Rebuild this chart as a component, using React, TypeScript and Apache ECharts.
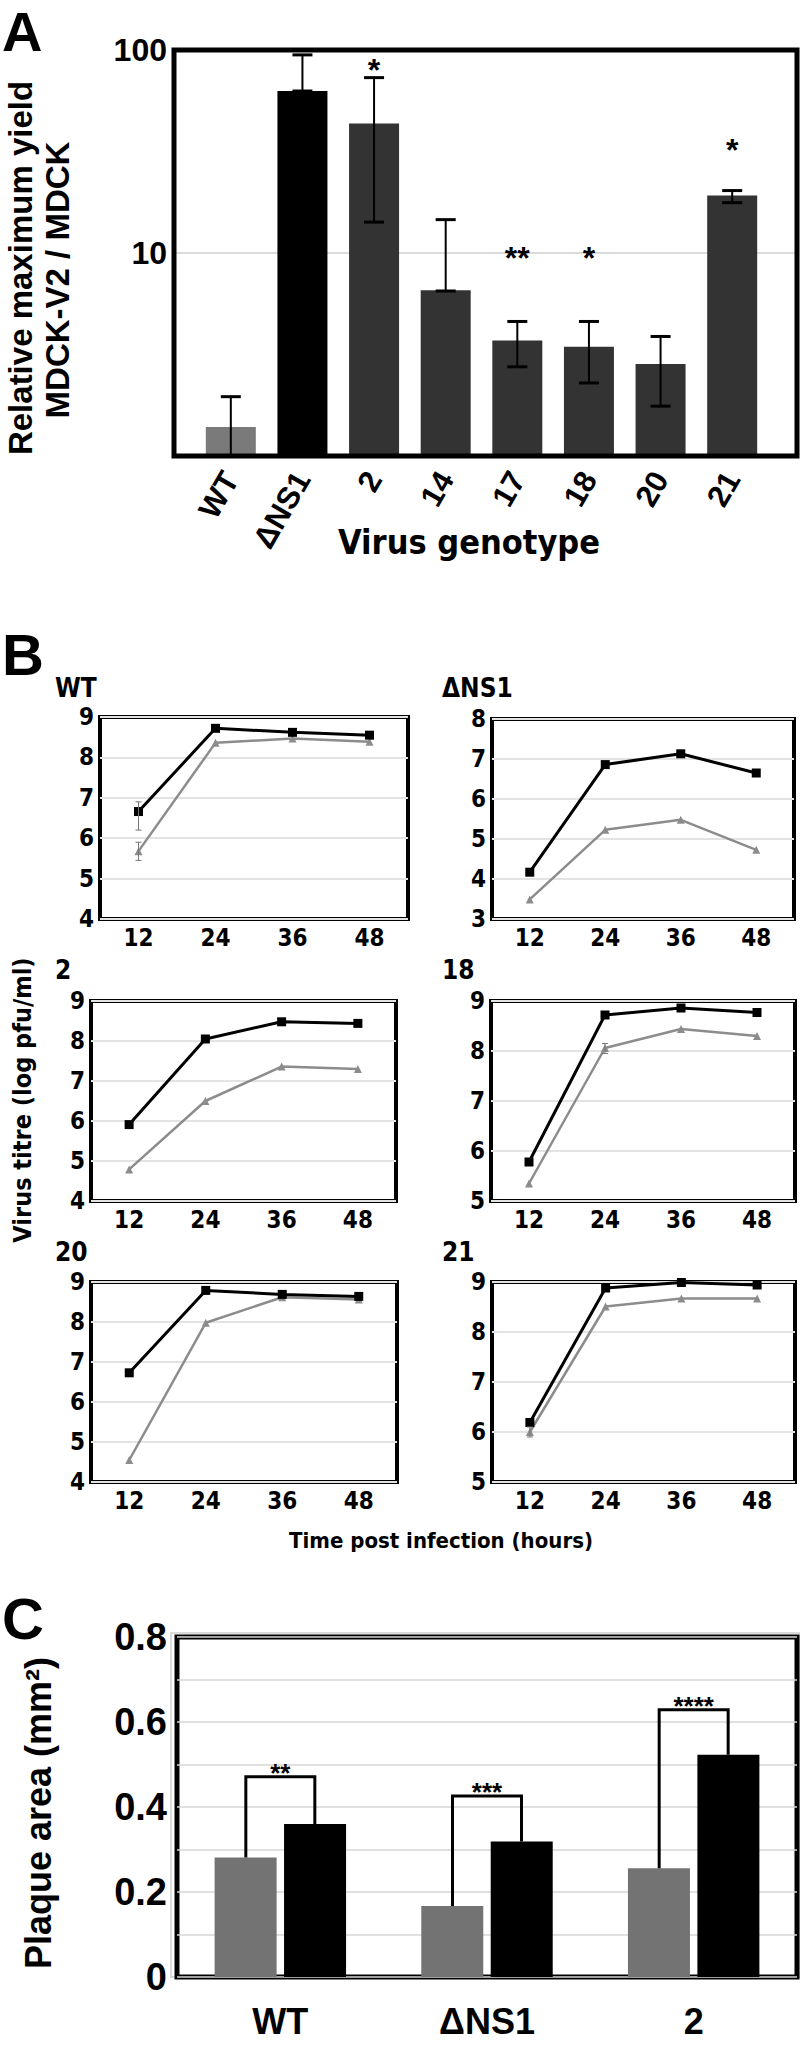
import React, { useEffect, useRef } from 'react';
import * as echarts from 'echarts';

// ---------- Panel A data ----------
const aCategories = ['WT', 'ΔNS1', '2', '14', '17', '18', '20', '21'];
const aValues = [1.39, 62.8, 43.5, 6.56, 3.71, 3.45, 2.84, 19.2];
const aErrLow = [1, 62.8, 14.2, 6.5, 2.75, 2.29, 1.76, 17.7];
const aErrHigh = [1.96, 94.6, 73.1, 14.6, 4.6, 4.6, 3.88, 20.3];
const aColors = ['#7a7a7a', '#000000', '#333333', '#333333', '#333333', '#333333', '#333333', '#333333'];
const aStars = ['', '', '*', '', '**', '*', '', '*'];
const aStarValues = [0, 0, 80, 0, 9.5, 9.5, 0, 32];

// ---------- Panel B data ----------
const bHours = ['12', '24', '36', '48'];
const bTitles = ['WT', 'ΔNS1', '2', '18', '20', '21'];
const bWtV2 = [6.66, 8.72, 8.62, 8.55];
const bWtMdck = [5.68, 8.36, 8.47, 8.39];
const bDnsV2 = [4.17, 6.86, 7.13, 6.65];
const bDnsMdck = [3.49, 5.23, 5.48, 4.73];
const b2V2 = [5.91, 8.05, 8.48, 8.44];
const b2Mdck = [4.79, 6.5, 7.36, 7.3];
const b18V2 = [5.78, 8.72, 8.86, 8.77];
const b18Mdck = [5.35, 8.06, 8.44, 8.3];
const b20V2 = [6.73, 8.79, 8.69, 8.64];
const b20Mdck = [4.55, 7.98, 8.62, 8.56];
const b21V2 = [6.19, 8.88, 8.99, 8.94];
const b21Mdck = [6.0, 8.51, 8.67, 8.67];
const bYMin = [4, 3, 4, 5, 4, 5];
const bYMax = [9, 8, 9, 9, 9, 9];
// error bars: [hourIndex, low, high]
const bWtErrV2 = [[0, 6.2, 6.9]];
const bWtErrMdck = [[0, 5.45, 5.9]];
const b18ErrMdck = [[1, 7.95, 8.15]];
const b21ErrMdck = [[0, 5.9, 6.1]];

// ---------- Panel C data ----------
const cCategories = ['WT', 'ΔNS1', '2'];
const cGray = [0.281, 0.167, 0.256];
const cBlack = [0.36, 0.319, 0.523];
const cBracket = [0.471, 0.426, 0.629];
const cStars = ['**', '***', '****'];

const SANS = "'Liberation Sans', Arial, Helvetica, sans-serif";
const NARROW = "'Liberation Sans Narrow', 'DejaVu Sans Condensed', 'Roboto Condensed', 'Liberation Sans', Arial, sans-serif";

const bGrids = [
  { left: 100, top: 717, width: 308, height: 202 },
  { left: 492, top: 719, width: 302, height: 200 },
  { left: 91, top: 1001, width: 305, height: 200 },
  { left: 491, top: 1001, width: 304, height: 200 },
  { left: 91, top: 1282, width: 306, height: 200 },
  { left: 492, top: 1282, width: 303, height: 200 },
];
const bTitlePos = [
  [55, 688], [442, 688], [55, 970], [442, 970], [55, 1252], [442, 1252],
];

export default function App() {
  const ref = useRef<HTMLDivElement>(null);
  useEffect(() => {
    document.body.style.margin = '0';
    const chart = echarts.init(ref.current!, null, { renderer: 'svg' });

    const bV2 = [bWtV2, bDnsV2, b2V2, b18V2, b20V2, b21V2];
    const bMdck = [bWtMdck, bDnsMdck, b2Mdck, b18Mdck, b20Mdck, b21Mdck];
    const bErrV2: number[][][] = [bWtErrV2, [], [], [], [], []];
    const bErrMdck: number[][][] = [bWtErrMdck, [], [], b18ErrMdck, [], b21ErrMdck];

    const grids: any[] = [
      { left: 195, top: 50, width: 573, height: 406 },
      ...bGrids.map((g) => ({ ...g, show: true, borderColor: '#000', borderWidth: 4, backgroundColor: 'transparent' })),
      { left: 177, top: 1637, width: 620, height: 340, show: true, borderColor: '#000', borderWidth: 5, backgroundColor: 'transparent' },
      // full-width frame grid of panel A (gridline + frame)
      { left: 174, top: 50, width: 623, height: 406, show: true, borderColor: '#000', borderWidth: 5, backgroundColor: 'transparent', z: 5 },
    ];

    const xAxes: any[] = [
      {
        gridIndex: 0, type: 'category', data: aCategories,
        axisLine: { show: false }, axisTick: { show: false },
        axisLabel: { rotate: 60, margin: 18, fontSize: 31, fontWeight: 'bold', fontFamily: SANS, color: '#000', interval: 0 },
      },
      ...bGrids.map((_, k) => ({
        gridIndex: k + 1, type: 'category', data: bHours, boundaryGap: true,
        axisLine: { show: false }, axisTick: { show: false },
        axisLabel: { margin: 7, fontSize: 24, fontWeight: 'bold', fontFamily: NARROW, color: '#000' },
      })),
      {
        gridIndex: 7, type: 'category', data: cCategories,
        axisLine: { show: false }, axisTick: { show: false },
        axisLabel: { margin: 26, fontSize: 36, fontWeight: 'bold', fontFamily: SANS, color: '#000' },
      },
      {
        gridIndex: 8, type: 'category', data: [''], show: false,
      },
    ];

    const yAxes: any[] = [
      {
        gridIndex: 0, type: 'log', logBase: 10, min: 1, max: 100,
        axisLine: { show: false }, axisTick: { show: false },
        axisLabel: {
          margin: 28, fontSize: 32, fontWeight: 'bold', fontFamily: SANS, color: '#000',
          formatter: (v: number) => (v >= 9.99 ? String(Math.round(v)) : ''),
        },
        splitLine: { show: false },
      },
      ...bGrids.map((_, k) => ({
        gridIndex: k + 1, type: 'value', min: bYMin[k], max: bYMax[k], interval: 1,
        axisLine: { show: false }, axisTick: { show: false },
        axisLabel: { margin: 6, fontSize: 24, fontWeight: 'bold', fontFamily: NARROW, color: '#000' },
        splitLine: { show: true, lineStyle: { color: '#e3e3e3', width: 2 } },
      })),
      {
        gridIndex: 7, type: 'value', min: 0, max: 0.8, interval: 0.1,
        axisLine: { show: false }, axisTick: { show: false },
        axisLabel: {
          margin: 10, fontSize: 38, fontWeight: 'bold', fontFamily: SANS, color: '#000',
          formatter: (v: number) => {
            const t = Math.round(v * 10);
            if (t % 2 !== 0) return '';
            return t === 0 ? '0' : (t / 10).toFixed(1);
          },
        },
        splitLine: { show: true, lineStyle: { color: '#d6d6d6', width: 1.5 } },
      },
      {
        gridIndex: 8, type: 'log', logBase: 10, min: 1, max: 100,
        axisLine: { show: false }, axisTick: { show: false }, axisLabel: { show: false },
        splitLine: { show: true, lineStyle: { color: '#cfcfcf', width: 1.5 } },
      },
    ];

    const series: any[] = [];

    // Panel A bars
    series.push({
      type: 'bar', xAxisIndex: 0, yAxisIndex: 0, barWidth: 50, z: 3,
      data: aValues.map((v, i) => ({ value: v, itemStyle: { color: aColors[i] } })),
    });
    // Panel A error bars
    series.push({
      type: 'custom', xAxisIndex: 0, yAxisIndex: 0, z: 10,
      data: aCategories.map((_, i) => [i, aErrLow[i], aErrHigh[i]]),
      renderItem: (params: any, api: any) => {
        const lo = api.coord([api.value(0), api.value(1)]);
        const hi = api.coord([api.value(0), api.value(2)]);
        const w = 10;
        return {
          type: 'group',
          children: [
            { type: 'line', shape: { x1: lo[0], y1: lo[1], x2: hi[0], y2: hi[1] }, style: { stroke: '#000', lineWidth: 2 } },
            { type: 'line', shape: { x1: hi[0] - w, y1: hi[1], x2: hi[0] + w, y2: hi[1] }, style: { stroke: '#000', lineWidth: 3 } },
            { type: 'line', shape: { x1: lo[0] - w, y1: lo[1], x2: lo[0] + w, y2: lo[1] }, style: { stroke: '#000', lineWidth: 3 } },
          ],
        };
      },
    });
    // Panel A asterisks
    series.push({
      type: 'custom', xAxisIndex: 0, yAxisIndex: 0, z: 11,
      data: aCategories.map((_, i) => [i, aStarValues[i] || 1]),
      renderItem: (params: any, api: any) => {
        const t = aStars[params.dataIndex];
        if (!t) return null;
        const p = api.coord([api.value(0), api.value(1)]);
        return {
          type: 'text', x: p[0], y: p[1],
          style: { text: t, fontSize: 32, fontWeight: 'bold', fontFamily: SANS, fill: '#000', align: 'center', verticalAlign: 'middle' },
        };
      },
    });

    // Panel B lines
    const errRender = () => (params: any, api: any) => {
      const lo = api.coord([api.value(0), api.value(1)]);
      const hi = api.coord([api.value(0), api.value(2)]);
      const w = 3;
      return {
        type: 'group',
        children: [
          { type: 'line', shape: { x1: lo[0], y1: lo[1], x2: hi[0], y2: hi[1] }, style: { stroke: '#777', lineWidth: 1 } },
          { type: 'line', shape: { x1: hi[0] - w, y1: hi[1], x2: hi[0] + w, y2: hi[1] }, style: { stroke: '#777', lineWidth: 1 } },
          { type: 'line', shape: { x1: lo[0] - w, y1: lo[1], x2: lo[0] + w, y2: lo[1] }, style: { stroke: '#777', lineWidth: 1 } },
        ],
      };
    };
    bGrids.forEach((_, k) => {
      series.push({
        type: 'line', xAxisIndex: k + 1, yAxisIndex: k + 1, data: bMdck[k],
        symbol: 'triangle', symbolSize: 8, z: 3,
        lineStyle: { color: '#8c8c8c', width: 2.5 }, itemStyle: { color: '#8c8c8c' },
      });
      series.push({
        type: 'line', xAxisIndex: k + 1, yAxisIndex: k + 1, data: bV2[k],
        symbol: 'rect', symbolSize: 9, z: 4,
        lineStyle: { color: '#000', width: 3 }, itemStyle: { color: '#000' },
      });
      if (bErrV2[k].length) {
        series.push({ type: 'custom', xAxisIndex: k + 1, yAxisIndex: k + 1, z: 5, data: bErrV2[k], renderItem: errRender() });
      }
      if (bErrMdck[k].length) {
        series.push({ type: 'custom', xAxisIndex: k + 1, yAxisIndex: k + 1, z: 5, data: bErrMdck[k], renderItem: errRender() });
      }
    });

    // Panel C bars
    series.push({
      type: 'bar', xAxisIndex: 7, yAxisIndex: 7, barWidth: 62, barGap: '12%',
      data: cGray, itemStyle: { color: '#737373' },
    });
    series.push({
      type: 'bar', xAxisIndex: 7, yAxisIndex: 7, barWidth: 62, barGap: '12%',
      data: cBlack, itemStyle: { color: '#000' },
    });
    // Panel C brackets + stars
    series.push({
      type: 'custom', xAxisIndex: 7, yAxisIndex: 7, z: 10,
      data: cCategories.map((_, i) => [i, cBracket[i], cGray[i], cBlack[i]]),
      renderItem: (params: any, api: any) => {
        const i = api.value(0);
        const top = api.coord([i, api.value(1)]);
        const g = api.coord([i, api.value(2)]);
        const b = api.coord([i, api.value(3)]);
        const off = 34.5;
        const xl = top[0] - off;
        const xr = top[0] + off;
        return {
          type: 'group',
          children: [
            { type: 'polyline', shape: { points: [[xl, g[1]], [xl, top[1]], [xr, top[1]], [xr, b[1]]] }, style: { stroke: '#000', lineWidth: 3, fill: 'none' } },
            {
              type: 'text', x: top[0], y: top[1] - 4,
              style: { text: cStars[params.dataIndex], fontSize: 26, fontWeight: 'bold', fontFamily: SANS, fill: '#000', align: 'center', verticalAlign: 'middle' },
            },
          ],
        };
      },
    });

    const txt = (text: string, x: number, y: number, size: number) => ({
      type: 'text', x, y,
      style: { text, fontSize: size, fontWeight: 'bold', fontFamily: SANS, fill: '#000', align: 'left', verticalAlign: 'middle' },
    });

    const graphic: any[] = [
      // faint outer frame of panel C
      { type: 'rect', shape: { x: 171, y: 1633, width: 629, height: 344 }, style: { fill: 'none', stroke: '#d0d0d0', lineWidth: 1.5 }, z: -1 },
      txt('A', 2, 31, 56),
      txt('B', 2, 654, 58),
      txt('C', 2, 1618, 58),
      { type: 'text', x: 20, y: 268, rotation: Math.PI / 2, style: { text: 'Relative maximum yield', fontSize: 33, fontWeight: 'bold', fontFamily: SANS, fill: '#000', align: 'center', verticalAlign: 'middle' } },
      { type: 'text', x: 57, y: 280, rotation: Math.PI / 2, style: { text: 'MDCK-V2 / MDCK', fontSize: 33, fontWeight: 'bold', fontFamily: SANS, fill: '#000', align: 'center', verticalAlign: 'middle' } },
      { type: 'text', x: 469, y: 542, style: { text: 'Virus genotype', fontSize: 34, fontWeight: 'bold', fontFamily: NARROW, fill: '#000', align: 'center', verticalAlign: 'middle' } },
      { type: 'text', x: 22, y: 1100, rotation: Math.PI / 2, style: { text: 'Virus titre (log pfu/ml)', fontSize: 25, fontWeight: 'bold', fontFamily: NARROW, fill: '#000', align: 'center', verticalAlign: 'middle' } },
      { type: 'text', x: 441, y: 1540, style: { text: 'Time post infection (hours)', fontSize: 22, fontWeight: 'bold', fontFamily: NARROW, fill: '#000', align: 'center', verticalAlign: 'middle' } },
      { type: 'text', x: 38, y: 1813, rotation: Math.PI / 2, style: { text: 'Plaque area (mm²)', fontSize: 36, fontWeight: 'bold', fontFamily: SANS, fill: '#000', align: 'center', verticalAlign: 'middle' } },
      ...bTitles.map((t, k) => ({
        type: 'text', x: bTitlePos[k][0], y: bTitlePos[k][1],
        style: { text: t, fontSize: 26, fontWeight: 'bold', fontFamily: NARROW, fill: '#000', align: 'left', verticalAlign: 'middle' },
      })),
    ];

    chart.setOption({
      animation: false,
      backgroundColor: '#fff',
      grid: grids,
      xAxis: xAxes,
      yAxis: yAxes,
      series,
      graphic,
    });
    return () => chart.dispose();
  }, []);
  return <div ref={ref} style={{ width: 800, height: 2045, position: 'absolute', left: 0, top: 0 }} />;
}
